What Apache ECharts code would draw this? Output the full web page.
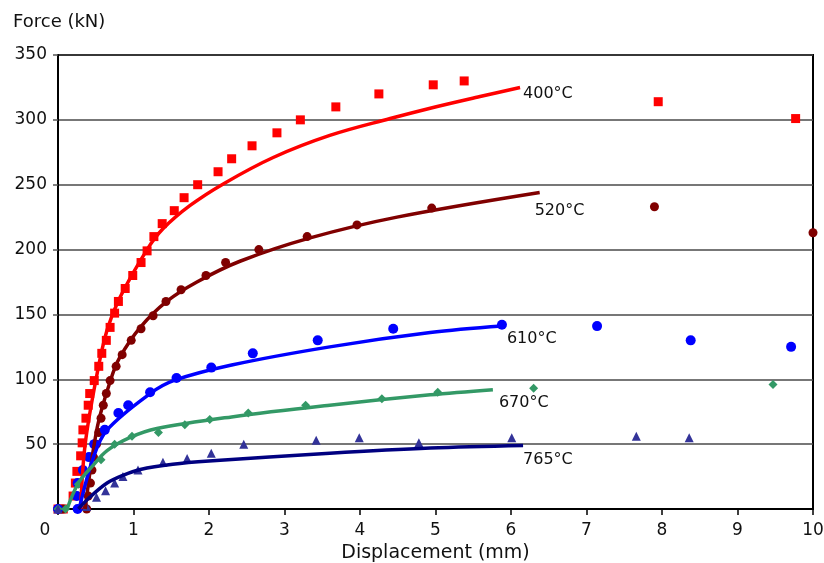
<!DOCTYPE html>
<html>
<head>
<meta charset="utf-8">
<script src="https://cdn.jsdelivr.net/npm/echarts@6/dist/echarts.min.js"></script>
<style>
  html, body { margin: 0; padding: 0; background: #fff; }
  #chart { width: 824px; height: 563px; }
</style>
</head>
<body>
<div id="chart"></div>
<script>
// ========= data (displacement mm, force kN) =========
const pts400 = [[0,0],[0.07,0],[0.2,10],[0.23,20],[0.25,29],[0.3,41],[0.32,51],[0.33,61],[0.37,70],[0.4,80],[0.42,89],[0.48,99],[0.54,110],[0.58,120],[0.64,130],[0.69,140],[0.75,151],[0.8,160],[0.89,170],[0.99,180],[1.1,190],[1.18,199],[1.27,210],[1.38,220],[1.54,230],[1.67,240],[1.85,250],[2.12,260],[2.3,270],[2.57,280],[2.9,290],[3.21,300],[3.68,310],[4.25,320],[4.97,327],[5.38,330],[7.95,314],[9.77,301]];
const fit400 = [[0.3,0],[0.36,50],[0.52,105],[0.65,138],[0.82,163],[1.18,200],[1.39,216],[1.75,234],[2.2,251],[2.85,271],[3.6,288],[4.4,301],[4.93,309],[5.59,318],[6.12,325]];

const pts520 = [[0,0],[0.07,0],[0.38,0],[0.4,10],[0.43,20],[0.45,30],[0.47,40],[0.51,50],[0.54,59],[0.57,70],[0.6,80],[0.64,89],[0.69,99],[0.77,110],[0.85,119],[0.97,130],[1.1,139],[1.26,149],[1.43,160],[1.63,169],[1.96,180],[2.22,190],[2.66,200],[3.3,210],[3.96,219],[4.95,232],[7.9,233],[10.0,213]];
const fit520 = [[0.36,0],[0.52,63],[0.7,100],[0.82,117],[1.09,140],[1.44,160],[1.84,175],[2.41,191],[3.34,209],[4.49,225],[6.38,244]];

const pts610 = [[0,0],[0.26,0],[0.25,10],[0.26,20],[0.33,30],[0.41,40],[0.48,50],[0.62,61],[0.8,74],[0.93,80],[1.22,90],[1.57,101],[2.03,109],[2.58,120],[3.44,130],[4.44,139],[5.88,142],[7.14,141],[8.38,130],[9.71,125]];
const fit610 = [[0.28,0],[0.47,40],[0.65,61],[1.22,89],[1.53,99],[2.3,111],[3.6,125],[4.93,136],[5.88,141]];

const pts670 = [[0,0],[0.1,0],[0.27,19],[0.57,38],[0.75,50],[0.98,56],[1.33,59],[1.68,65],[2.01,69],[2.52,74],[3.28,80],[4.29,85],[5.03,90],[6.3,93],[9.47,96]];
const fit670 = [[0.12,0],[0.27,20],[0.47,34],[0.65,45],[0.95,55],[1.31,62],[2.3,71],[3.6,80],[4.93,88],[5.76,92]];

const pts765 = [[0,0],[0.38,2],[0.51,9],[0.63,14],[0.75,20],[0.86,25],[1.06,30],[1.39,36],[1.71,39],[2.03,43],[2.46,50],[3.42,53],[3.99,55],[4.78,51],[6.01,55],[7.66,56],[8.36,55]];
const fit765 = [[0.27,0],[0.42,9],[0.65,20],[0.86,26],[1.09,30.5],[1.52,34.5],[2.0,37],[3.6,43],[4.93,47],[6.16,49]];

const curveNames = ['400°C','520°C','610°C','670°C','765°C'];

// ========= helpers =========
const FONT = 'DejaVu Sans';

function pointSeries(data, color, symbol, size){
    return {
        type: 'scatter',
        data: data,
        symbol: symbol,
        symbolSize: size,
        clip: false,
        itemStyle: { color: color, opacity: 1 },
        silent: true
    };
}

function fitSeries(data, color, name, offset){
    return {
        type: 'line',
        data: data,
        smooth: 0.35,
        showSymbol: false,
        lineStyle: { color: color, width: 3.5 },
        endLabel: {
            show: true,
            formatter: name,
            distance: 0,
            offset: offset,
            align: 'left',
            verticalAlign: 'middle',
            color: '#111',
            fontFamily: FONT,
            fontSize: 16
        },
        silent: true
    };
}

const chart = echarts.init(document.getElementById('chart'));

chart.setOption({
    animation: false,
    backgroundColor: '#fff',
    grid: {
        left: 58, right: 11, top: 55, bottom: 54,
        outerBoundsMode: 'none',
        containLabel: false,
        show: true, borderColor: '#000', borderWidth: 2
    },
    xAxis: {
        type: 'value',
        min: 0, max: 10, interval: 1,
        name: 'Displacement (mm)',
        nameLocation: 'middle',
        nameGap: 32,
        nameTextStyle: { fontFamily: FONT, fontSize: 19, color: '#111' },
        axisLine: { show: true, onZero: false, lineStyle: { color: '#000', width: 2 } },
        axisTick: { show: true, length: 6, lineStyle: { color: '#000', width: 1.5 } },
        axisLabel: {
            fontFamily: FONT, fontSize: 17, color: '#111', margin: 13,
            formatter: v => v === 0 ? '{z|0}' : String(v),
            rich: { z: { fontFamily: FONT, fontSize: 17, color: '#111', padding: [0, 26, 0, 0] } }
        },
        splitLine: { show: false }
    },
    yAxis: {
        type: 'value',
        min: 0, max: 350, interval: 50,
        name: 'Force (kN)',
        nameLocation: 'end',
        nameGap: 24,
        nameTextStyle: { fontFamily: FONT, fontSize: 18, color: '#111', align: 'left', padding: [0, 0, 0, -45] },
        axisLine: { show: true, lineStyle: { color: '#000', width: 2 } },
        axisTick: { show: true, length: 5, lineStyle: { color: '#555', width: 1.5 } },
        axisLabel: {
            fontFamily: FONT, fontSize: 17, color: '#111', margin: 11,
            formatter: v => v === 0 ? '' : String(v)
        },
        splitLine: { show: true, lineStyle: { color: '#4a4a4a', width: 1.5 } }
    },
    series: [
        pointSeries(pts400, '#ff0000', 'rect', 9),
        fitSeries(fit400, '#ff0000', curveNames[0], [3, 6]),
        pointSeries(pts520, '#800000', 'circle', 9),
        fitSeries(fit520, '#800000', curveNames[1], [-5, 18]),
        pointSeries(pts610, '#0000ff', 'circle', 10),
        fitSeries(fit610, '#0000ff', curveNames[2], [5, 13]),
        pointSeries(pts670, '#339966', 'diamond', 9),
        fitSeries(fit670, '#339966', curveNames[3], [6, 13]),
        pointSeries(pts765, '#333399', 'triangle', 9),
        fitSeries(fit765, '#000080', curveNames[4], [0, 14])
    ]
});
</script>
</body>
</html>
